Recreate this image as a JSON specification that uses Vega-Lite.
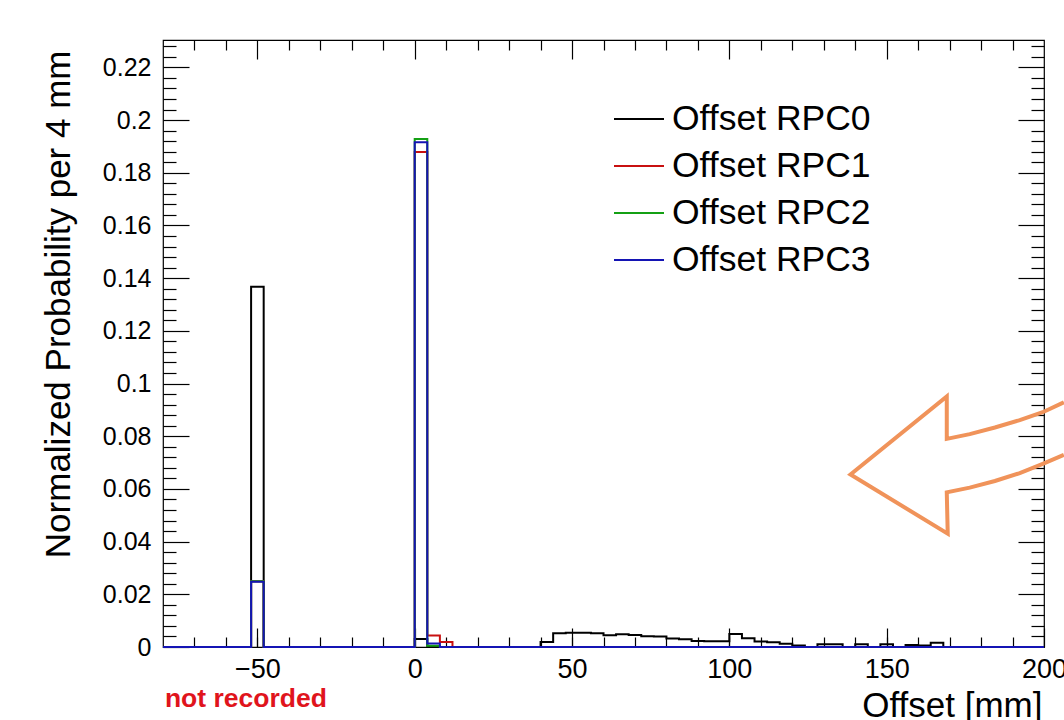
{
  "$schema": "https://vega.github.io/schema/vega-lite/v6.json",
  "width": 881,
  "height": 607,
  "padding": {"left": 163, "top": 40, "right": 20, "bottom": 73},
  "autosize": {"type": "none"},
  "background": "white",
  "config": {
    "view": {"stroke": "black", "strokeWidth": 1.2},
    "font": "Liberation Sans",
    "axis": {
      "grid": false,
      "domain": false,
      "tickColor": "black",
      "tickWidth": 1.2,
      "labelColor": "black",
      "titleColor": "black",
      "labelFont": "Liberation Sans",
      "titleFont": "Liberation Sans",
      "titleFontWeight": "normal",
      "labelFlush": false,
      "labelOverlap": false
    }
  },
  "datasets": {
    "hist": [
      {"series": "Offset RPC0", "x": -80, "y": 0},
      {"series": "Offset RPC0", "x": -52, "y": 0.1367},
      {"series": "Offset RPC0", "x": -48, "y": 0},
      {"series": "Offset RPC0", "x": 0, "y": 0.003},
      {"series": "Offset RPC0", "x": 4, "y": 0},
      {"series": "Offset RPC0", "x": 40, "y": 0.0019},
      {"series": "Offset RPC0", "x": 44, "y": 0.0052},
      {"series": "Offset RPC0", "x": 48, "y": 0.0054},
      {"series": "Offset RPC0", "x": 52, "y": 0.0054},
      {"series": "Offset RPC0", "x": 56, "y": 0.0052},
      {"series": "Offset RPC0", "x": 60, "y": 0.0045},
      {"series": "Offset RPC0", "x": 64, "y": 0.0048},
      {"series": "Offset RPC0", "x": 68, "y": 0.0046},
      {"series": "Offset RPC0", "x": 72, "y": 0.0041},
      {"series": "Offset RPC0", "x": 76, "y": 0.004},
      {"series": "Offset RPC0", "x": 80, "y": 0.0032},
      {"series": "Offset RPC0", "x": 84, "y": 0.0029},
      {"series": "Offset RPC0", "x": 88, "y": 0.0023},
      {"series": "Offset RPC0", "x": 92, "y": 0.0022},
      {"series": "Offset RPC0", "x": 96, "y": 0.0022},
      {"series": "Offset RPC0", "x": 100, "y": 0.0049},
      {"series": "Offset RPC0", "x": 104, "y": 0.0033},
      {"series": "Offset RPC0", "x": 108, "y": 0.0021},
      {"series": "Offset RPC0", "x": 112, "y": 0.0018},
      {"series": "Offset RPC0", "x": 116, "y": 0.0012},
      {"series": "Offset RPC0", "x": 120, "y": 0.0006},
      {"series": "Offset RPC0", "x": 124, "y": 0},
      {"series": "Offset RPC0", "x": 128, "y": 0.001},
      {"series": "Offset RPC0", "x": 132, "y": 0.001},
      {"series": "Offset RPC0", "x": 136, "y": 0},
      {"series": "Offset RPC0", "x": 140, "y": 0.001},
      {"series": "Offset RPC0", "x": 144, "y": 0},
      {"series": "Offset RPC0", "x": 148, "y": 0.001},
      {"series": "Offset RPC0", "x": 152, "y": 0},
      {"series": "Offset RPC0", "x": 156, "y": 0.0008},
      {"series": "Offset RPC0", "x": 160, "y": 0.0006},
      {"series": "Offset RPC0", "x": 164, "y": 0.0016},
      {"series": "Offset RPC0", "x": 168, "y": 0},
      {"series": "Offset RPC0", "x": 200, "y": 0},
      {"series": "Offset RPC1", "x": -80, "y": 0},
      {"series": "Offset RPC1", "x": -52, "y": 0.025},
      {"series": "Offset RPC1", "x": -48, "y": 0},
      {"series": "Offset RPC1", "x": 0, "y": 0.1879},
      {"series": "Offset RPC1", "x": 4, "y": 0.0044},
      {"series": "Offset RPC1", "x": 8, "y": 0.0019},
      {"series": "Offset RPC1", "x": 12, "y": 0},
      {"series": "Offset RPC1", "x": 200, "y": 0},
      {"series": "Offset RPC2", "x": -80, "y": 0},
      {"series": "Offset RPC2", "x": -52, "y": 0.025},
      {"series": "Offset RPC2", "x": -48, "y": 0},
      {"series": "Offset RPC2", "x": 0, "y": 0.1928},
      {"series": "Offset RPC2", "x": 4, "y": 0.0005},
      {"series": "Offset RPC2", "x": 8, "y": 0},
      {"series": "Offset RPC2", "x": 200, "y": 0},
      {"series": "Offset RPC3", "x": -80, "y": 0},
      {"series": "Offset RPC3", "x": -52, "y": 0.0248},
      {"series": "Offset RPC3", "x": -48, "y": 0},
      {"series": "Offset RPC3", "x": 0, "y": 0.1916},
      {"series": "Offset RPC3", "x": 4, "y": 0.0013},
      {"series": "Offset RPC3", "x": 8, "y": 0},
      {"series": "Offset RPC3", "x": 200, "y": 0}
    ],
    "arrow": [
      {"ord": 1, "x": 206.3, "y": 0.0929},
      {"ord": 2, "x": 199.6, "y": 0.0891},
      {"ord": 3, "x": 192.3, "y": 0.0861},
      {"ord": 4, "x": 184.4, "y": 0.0833},
      {"ord": 5, "x": 176.4, "y": 0.0808},
      {"ord": 6, "x": 169.1, "y": 0.079},
      {"ord": 7, "x": 169.1, "y": 0.0951},
      {"ord": 8, "x": 138.5, "y": 0.0655},
      {"ord": 9, "x": 169.4, "y": 0.043},
      {"ord": 10, "x": 169.1, "y": 0.0587},
      {"ord": 11, "x": 176.4, "y": 0.0605},
      {"ord": 12, "x": 184.4, "y": 0.063},
      {"ord": 13, "x": 192.3, "y": 0.066},
      {"ord": 14, "x": 199.6, "y": 0.0695},
      {"ord": 15, "x": 206.3, "y": 0.0729}
    ],
    "note": [{"x": -50, "y": 0}]
  },
  "layer": [
    {
      "data": {"name": "hist"},
      "mark": {"type": "line", "interpolate": "step-after", "strokeWidth": 2},
      "encoding": {
        "x": {
          "field": "x", "type": "quantitative",
          "scale": {"domain": [-80, 200], "nice": false, "zero": false},
          "axis": {
            "orient": "bottom",
            "values": [-50, 0, 50, 100, 150, 200],
            "format": "d",
            "tickSize": -19,
            "labelPadding": 28,
            "labelFontSize": 27,
            "title": "Offset [mm]",
            "titleFontSize": 35,
            "titleAlign": "right",
            "titleAnchor": "end",
            "titleX": 879,
            "titleY": 58,
            "titleBaseline": "middle"
          }
        },
        "y": {
          "field": "y", "type": "quantitative",
          "scale": {"domain": [0, 0.2304], "nice": false, "zero": false},
          "axis": {
            "orient": "left",
            "values": [0, 0.02, 0.04, 0.06, 0.08, 0.1, 0.12, 0.14, 0.16, 0.18, 0.2, 0.22],
            "format": ".2~f",
            "tickSize": -26,
            "labelPadding": 38,
            "labelFontSize": 25,
            "title": "Normalized Probability per 4 mm",
            "titleFontSize": 35,
            "titleAngle": -90,
            "titleAlign": "right",
            "titleX": -105,
            "titleY": 10,
            "titleBaseline": "middle"
          }
        },
        "color": {
          "field": "series", "type": "nominal",
          "scale": {
            "domain": ["Offset RPC0", "Offset RPC1", "Offset RPC2", "Offset RPC3"],
            "range": ["#000000", "#c81010", "#14a014", "#1414b4"]
          },
          "legend": {
            "orient": "none",
            "legendX": 450,
            "legendY": 53,
            "title": null,
            "symbolType": "stroke",
            "symbolSize": 2500,
            "symbolStrokeWidth": 2,
            "labelFontSize": 35.5,
            "labelFont": "Liberation Sans",
            "labelColor": "black",
            "labelOffset": 7,
            "labelLimit": 400,
            "rowPadding": 2,
            "padding": 0,
            "offset": 0
          }
        }
      }
    },
    {
      "data": {"name": "arrow"},
      "mark": {"type": "line", "color": "#f0935a", "strokeWidth": 4, "strokeJoin": "miter", "clip": false},
      "encoding": {
        "x": {
          "field": "x", "type": "quantitative",
          "scale": {"domain": [-80, 200], "nice": false, "zero": false},
          "axis": {
            "orient": "bottom",
            "values": [-70, -60, -50, -40, -30, -20, -10, 0, 10, 20, 30, 40, 50, 60, 70, 80, 90, 100, 110, 120, 130, 140, 150, 160, 170, 180, 190],
            "labels": false,
            "tickSize": -10,
            "title": null
          }
        },
        "y": {
          "field": "y", "type": "quantitative",
          "scale": {"domain": [0, 0.2304], "nice": false, "zero": false},
          "axis": {
            "orient": "left",
            "values": [0.004, 0.008, 0.012, 0.016, 0.024, 0.028, 0.032, 0.036, 0.044, 0.048, 0.052, 0.056, 0.064, 0.068, 0.072, 0.076, 0.084, 0.088, 0.092, 0.096, 0.104, 0.108, 0.112, 0.116, 0.124, 0.128, 0.132, 0.136, 0.144, 0.148, 0.152, 0.156, 0.164, 0.168, 0.172, 0.176, 0.184, 0.188, 0.192, 0.196, 0.204, 0.208, 0.212, 0.216, 0.224, 0.228],
            "labels": false,
            "tickSize": -13,
            "title": null
          }
        },
        "order": {"field": "ord", "type": "quantitative"}
      }
    },
    {
      "data": {"name": "note"},
      "mark": {"type": "point", "opacity": 0},
      "encoding": {
        "x": {
          "field": "x", "type": "quantitative",
          "scale": {"domain": [-80, 200], "nice": false, "zero": false},
          "axis": {
            "orient": "top",
            "values": [-50, 0, 50, 100, 150],
            "labels": false,
            "tickSize": -19,
            "title": null
          }
        },
        "y": {
          "field": "y", "type": "quantitative",
          "scale": {"domain": [0, 0.2304], "nice": false, "zero": false},
          "axis": {
            "orient": "right",
            "values": [0.02, 0.04, 0.06, 0.08, 0.1, 0.12, 0.14, 0.16, 0.18, 0.2, 0.22],
            "labels": false,
            "tickSize": -26,
            "title": null
          }
        }
      }
    },
    {
      "data": {"name": "note"},
      "mark": {"type": "point", "opacity": 0},
      "encoding": {
        "x": {
          "field": "x", "type": "quantitative",
          "scale": {"domain": [-80, 200], "nice": false, "zero": false},
          "axis": {
            "orient": "top",
            "values": [-70, -60, -40, -30, -20, -10, 10, 20, 30, 40, 60, 70, 80, 90, 110, 120, 130, 140, 160, 170, 180, 190],
            "labels": false,
            "tickSize": -10,
            "title": null
          }
        },
        "y": {
          "field": "y", "type": "quantitative",
          "scale": {"domain": [0, 0.2304], "nice": false, "zero": false},
          "axis": {
            "orient": "right",
            "values": [0.004, 0.008, 0.012, 0.016, 0.024, 0.028, 0.032, 0.036, 0.044, 0.048, 0.052, 0.056, 0.064, 0.068, 0.072, 0.076, 0.084, 0.088, 0.092, 0.096, 0.104, 0.108, 0.112, 0.116, 0.124, 0.128, 0.132, 0.136, 0.144, 0.148, 0.152, 0.156, 0.164, 0.168, 0.172, 0.176, 0.184, 0.188, 0.192, 0.196, 0.204, 0.208, 0.212, 0.216, 0.224, 0.228],
            "labels": false,
            "tickSize": -13,
            "title": null
          }
        }
      }
    },
    {
      "data": {"name": "note"},
      "mark": {"type": "point", "opacity": 0},
      "encoding": {
        "x": {
          "field": "x", "type": "quantitative",
          "scale": {"domain": [-80, 200], "nice": false, "zero": false},
          "axis": {
            "orient": "bottom",
            "values": [-50],
            "labelExpr": "'not recorded'",
            "ticks": false,
            "labelPadding": 38,
            "labelFontSize": 26.5,
            "labelFontWeight": "bold",
            "labelColor": "#e0141c",
            "labelOffset": -12,
            "title": null
          }
        },
        "y": {
          "field": "y", "type": "quantitative",
          "scale": {"domain": [0, 0.2304], "nice": false, "zero": false},
          "axis": null
        }
      }
    }
  ],
  "resolve": {"axis": {"x": "independent", "y": "independent"}}
}
